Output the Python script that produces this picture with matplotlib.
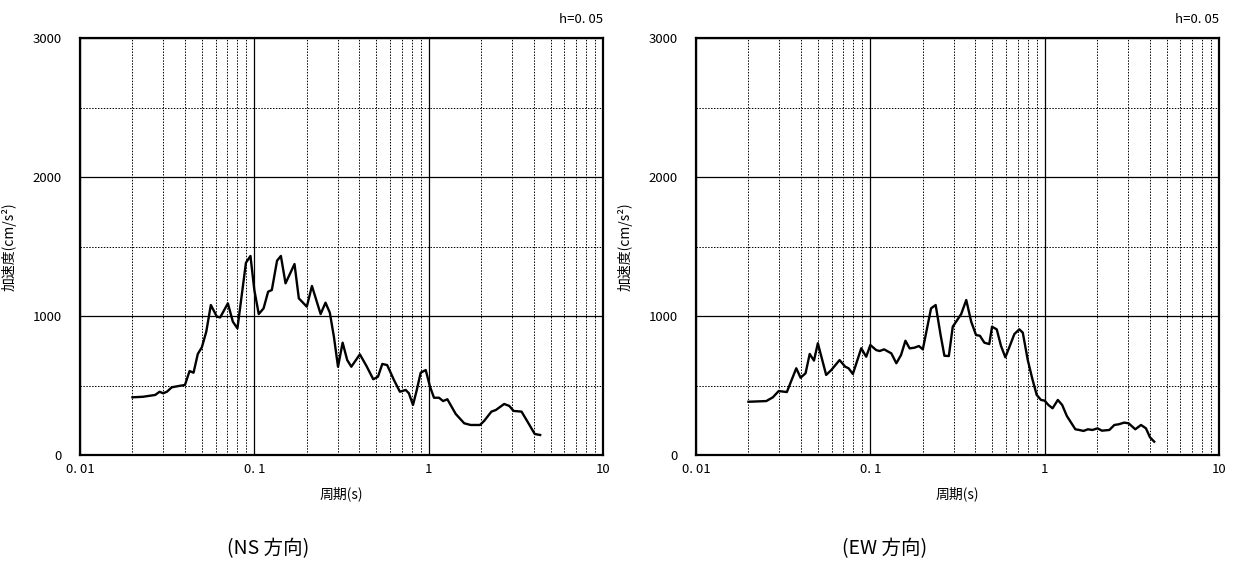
import numpy as np
import matplotlib
matplotlib.use("Agg")
import matplotlib.pyplot as plt
from matplotlib.ticker import FixedLocator, LogLocator, NullFormatter

plt.rcParams['font.family'] = ['Noto Sans CJK JP', 'DejaVu Sans']

# NS direction response spectrum (h=0.05)
ns_period = [0.020, 0.023, 0.027, 0.0286, 0.030, 0.0315, 0.0336, 0.0367, 0.040, 0.0425,
             0.0448, 0.0474, 0.050, 0.053, 0.0563, 0.061, 0.0637, 0.0705, 0.0753, 0.080,
             0.0895, 0.095, 0.100, 0.106, 0.113, 0.120, 0.126, 0.135, 0.142, 0.151,
             0.170, 0.180, 0.200, 0.214, 0.240, 0.256, 0.271, 0.286, 0.302, 0.321,
             0.341, 0.360, 0.403, 0.440, 0.481, 0.512, 0.542, 0.578, 0.632, 0.684,
             0.738, 0.770, 0.813, 0.853, 0.900, 0.962, 1.018, 1.073, 1.146, 1.21,
             1.28, 1.43, 1.60, 1.74, 1.97, 2.08, 2.29, 2.43, 2.71, 2.90,
             3.07, 3.41, 3.69, 4.06, 4.36]
ns_acc = [415, 419, 432, 455, 444, 455, 487, 496, 504, 604,
          592, 727, 775, 887, 1079, 995, 990, 1091, 959, 911,
          1383, 1432, 1187, 1014, 1055, 1175, 1187, 1398, 1432, 1235,
          1374, 1127, 1067, 1216, 1014, 1096, 1024, 851, 635, 808,
          683, 635, 724, 640, 545, 563, 655, 647, 540, 455,
          468, 444, 360, 463, 592, 611, 491, 412, 412, 388,
          401, 295, 228, 216, 216, 245, 312, 324, 367, 353,
          317, 312, 240, 151, 144]

# EW direction
ew_period = [0.020, 0.0253, 0.0276, 0.0298, 0.0332, 0.0376, 0.0398, 0.0425, 0.0449, 0.0475,
             0.050, 0.0558, 0.0597, 0.0666, 0.0718, 0.075, 0.0794, 0.0887, 0.0947, 0.100,
             0.108, 0.113, 0.120, 0.132, 0.141, 0.150, 0.159, 0.168, 0.179, 0.190,
             0.200, 0.223, 0.237, 0.253, 0.266, 0.282, 0.297, 0.332, 0.355, 0.379,
             0.404, 0.425, 0.451, 0.481, 0.499, 0.531, 0.562, 0.595, 0.634, 0.670,
             0.716, 0.749, 0.800, 0.848, 0.900, 0.953, 1.000, 1.05, 1.11, 1.19,
             1.26, 1.34, 1.50, 1.58, 1.67, 1.77, 1.88, 2.01, 2.13, 2.35,
             2.51, 2.66, 2.86, 3.03, 3.31, 3.57, 3.81, 4.02, 4.25]
ew_acc = [383, 388, 415, 460, 453, 624, 556, 588, 727, 679,
          804, 576, 611, 683, 635, 624, 583, 768, 707, 791,
          755, 748, 760, 731, 660, 719, 822, 767, 772, 784,
          760, 1055, 1079, 863, 714, 712, 923, 1014, 1115, 959,
          863, 858, 808, 798, 923, 904, 784, 703, 791, 870,
          904, 880, 683, 552, 432, 396, 391, 360, 336, 396,
          360, 281, 185, 180, 173, 185, 180, 192, 175, 180,
          216, 221, 233, 228, 185, 216, 192, 127, 96]

x_ticks = [0.01, 0.1, 1, 10]
x_ticklabels = ["0. 01", "0. 1", "1", "10"]
y_ticks = [0, 1000, 2000, 3000]
captions = ["(NS 方向)", "(EW 方向)"]

fig = plt.figure(figsize=(12.43, 5.71), dpi=100)
lefts = [80 / 1243, 696 / 1243]
series = [(ns_period, ns_acc), (ew_period, ew_acc)]

for left, (per, acc), cap in zip(lefts, series, captions):
    ax = fig.add_axes([left, 116 / 571, 523 / 1243, 417 / 571])
    ax.set_xscale("log")
    ax.set_xlim(0.01, 10)
    ax.set_ylim(0, 3000)

    ax.xaxis.set_major_locator(FixedLocator(x_ticks))
    ax.set_xticklabels(x_ticklabels)
    ax.xaxis.set_minor_locator(LogLocator(base=10, subs=np.arange(2, 10)))
    ax.xaxis.set_minor_formatter(NullFormatter())
    ax.yaxis.set_major_locator(FixedLocator(y_ticks))
    ax.yaxis.set_minor_locator(FixedLocator([500, 1500, 2500]))

    ax.grid(which="major", color="black", linewidth=0.9, linestyle="-")
    ax.grid(which="minor", color="black", linewidth=0.7, linestyle=(0, (1.5, 1.5)))
    ax.tick_params(which="both", length=0, labelsize=9.5)
    ax.tick_params(axis="x", pad=6)
    ax.tick_params(axis="y", pad=13)

    for s in ax.spines.values():
        s.set_linewidth(1.6)
        s.set_zorder(5)

    ax.plot(per, acc, color="black", linewidth=1.7, zorder=4)

    ax.set_xlabel("周期(s)", fontsize=10, labelpad=7)
    ax.set_ylabel("加速度(cm/s²)", fontsize=10, labelpad=12)
    ax.text(1.0, 1.045, "h=0. 05", transform=ax.transAxes, ha="right",
            va="center", fontsize=9.5)
    ax.text(0.36, -0.225, cap, transform=ax.transAxes, ha="center",
            va="center", fontsize=14)

fig.savefig("out.png", dpi=100)
